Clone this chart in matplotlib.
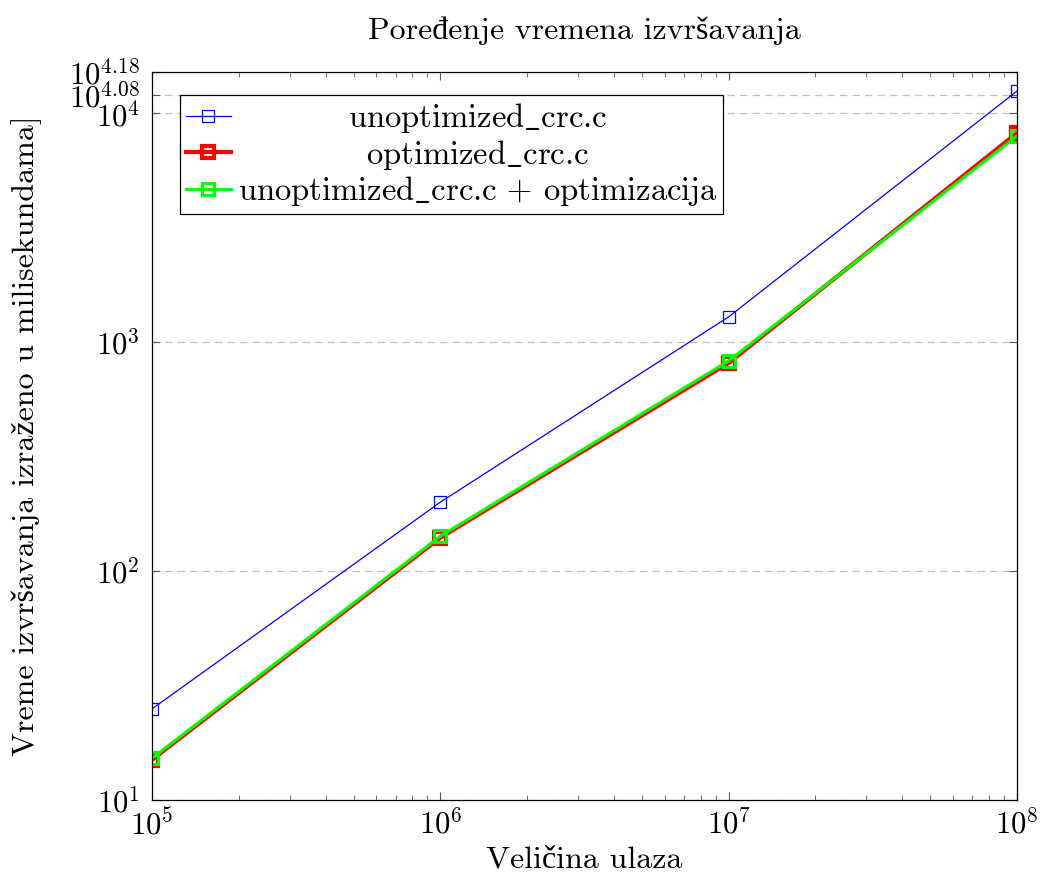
import numpy as np
import matplotlib
matplotlib.use("Agg")
import matplotlib.pyplot as plt
from matplotlib.ticker import FixedLocator, NullLocator, LogLocator, NullFormatter

plt.rcParams['font.family'] = ['cmr10', 'Liberation Serif', 'DejaVu Serif']
plt.rcParams['mathtext.fontset'] = 'cm'
plt.rcParams['axes.unicode_minus'] = False

# podaci
velicina = [1e5, 1e6, 1e7, 1e8]
unoptimized = [25, 200, 1290, 12500]
optimized = [15, 140, 811, 8200]
unopt_optim = [15.2, 142, 828, 7950]

ytick_exp = [1, 2, 3, 4, 4.08, 4.18]
ytick_lbl = [r'$10^{1}$', r'$10^{2}$', r'$10^{3}$', r'$10^{4}$', r'$10^{4.08}$', r'$10^{4.18}$']

us = r'$\_$'

fig = plt.figure(figsize=(10.4, 8.86), dpi=100)
ax = fig.add_axes([0.1462, 0.0971, 0.8317, 0.8216])

ax.plot(velicina, unoptimized, color=(0, 0, 1), lw=0.9, marker='s', ms=9,
        mfc='none', mec=(0, 0, 1), mew=0.9, label='unoptimized' + us + 'crc.c')
ax.plot(velicina, optimized, color=(1, 0, 0), lw=3.0, marker='s', ms=8,
        mfc='none', mec=(1, 0, 0), mew=3.0, label='optimized' + us + 'crc.c')
ax.plot(velicina, unopt_optim, color=(0, 1, 0), lw=2.2, marker='s', ms=9,
        mfc='none', mec=(0, 1, 0), mew=2.2,
        label='unoptimized' + us + 'crc.c + optimizacija')

ax.set_xscale('log')
ax.set_yscale('log')
ax.set_xlim(1e5, 1e8)
ax.set_ylim(10, 10 ** 4.18)

ax.xaxis.set_major_locator(FixedLocator(velicina))
ax.set_xticklabels([r'$10^{5}$', r'$10^{6}$', r'$10^{7}$', r'$10^{8}$'])
ax.xaxis.set_minor_locator(LogLocator(base=10, subs=np.arange(2, 10)))
ax.xaxis.set_minor_formatter(NullFormatter())

ax.yaxis.set_major_locator(FixedLocator([10 ** e for e in ytick_exp]))
ax.set_yticklabels(ytick_lbl)
ax.yaxis.set_minor_locator(NullLocator())

ax.tick_params(which='both', direction='in', top=True, right=True, labelsize=22, color='#555555')
ax.tick_params(which='major', length=6, width=0.8, pad=6)
ax.tick_params(axis='y', which='major', pad=9)
ax.tick_params(which='minor', length=3.5, width=0.6)
for s in ax.spines.values():
    s.set_linewidth(0.9)

ax.grid(True, axis='y', which='major', linestyle=(0, (6, 4)), color='#c0c0c0', lw=0.9)

ax.set_title('Poređenje vremena izvršavanja', fontsize=23, pad=24)
ax.set_xlabel('Veličina ulaza', fontsize=23, labelpad=4)
ax.set_ylabel('Vreme izvršavanja izraženo u milisekundama]', fontsize=23)
ax.yaxis.set_label_coords(-0.127, 0.5)

leg = ax.legend(loc='upper left', bbox_to_anchor=(0.0324, 0.968), borderaxespad=0,
                fontsize=23.5, fancybox=False, edgecolor='black', framealpha=1,
                handlelength=1.38, handletextpad=0.2, borderpad=0.18, labelspacing=0.08)
leg.get_frame().set_linewidth(0.9)

# centriranje teksta u legendi
fig.canvas.draw()
r = fig.canvas.get_renderer()
sirine = [t.get_window_extent(r).width for t in leg.get_texts()]
for t, w in zip(leg.get_texts(), sirine):
    t.set_x((max(sirine) - w) / 2)

fig.savefig('out.png', dpi=100)
